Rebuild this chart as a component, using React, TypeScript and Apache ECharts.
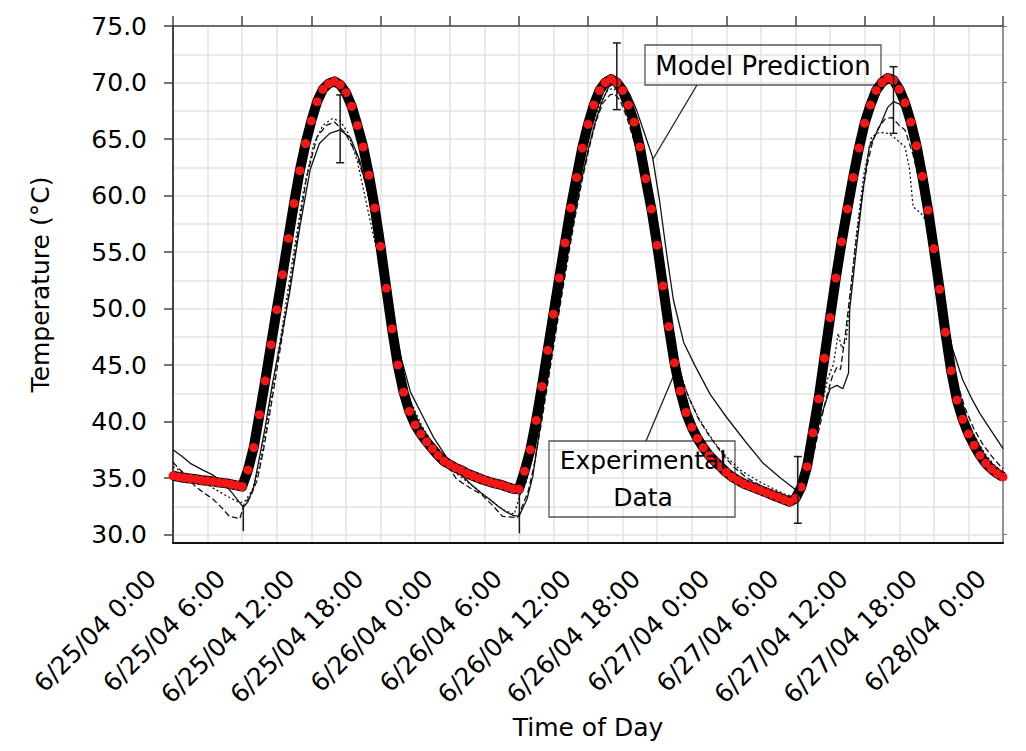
import { useEffect, useRef } from 'react'
import * as echarts from 'echarts'

const FONT = 'DejaVu Sans'

// model prediction, one value every half hour from 6/25/04 0:00
const MODEL_STEP_H = 0.5
const modelTemp = [
  35.2, 35.1, 35.0, 34.95, 34.9, 34.8, 34.75, 34.7, 34.6, 34.55, 34.45, 34.35,
  34.25, 35.7, 37.7, 40.6, 43.6, 46.8, 49.9, 53.0, 56.2, 59.3, 62.2, 64.6,
  66.6, 68.3, 69.4, 69.9, 70.1, 69.8, 69.1, 67.9, 66.2, 64.3, 61.8, 58.9,
  55.5, 51.8, 48.2, 45.0, 42.6, 40.9, 39.7, 38.9, 38.2, 37.6, 37.0, 36.5,
  36.2, 35.9, 35.7, 35.4, 35.2, 35.0, 34.8, 34.65, 34.5, 34.4, 34.2, 34.05,
  34.0, 35.6, 37.5, 40.1, 43.1, 46.3, 49.5, 52.7, 55.8, 58.9, 61.6, 64.2,
  66.3, 68.0, 69.3, 70.0, 70.3, 70.0, 69.3, 68.0, 66.5, 64.3, 61.5, 58.8,
  55.6, 52.0, 48.4, 45.2, 42.7, 40.8, 39.5, 38.5, 37.7, 37.0, 36.5, 36.0,
  35.5, 35.1, 34.8, 34.5, 34.3, 34.1, 33.9, 33.7, 33.5, 33.3, 33.1, 32.9,
  33.2, 34.2, 36.0, 39.0, 42.0, 45.6, 49.2, 52.7, 55.9, 58.8, 61.6, 64.2,
  66.4, 68.0, 69.3, 70.0, 70.4, 70.2, 69.4, 68.2, 66.5, 64.4, 61.7, 58.7,
  55.3, 51.7, 47.9, 44.5, 41.9, 40.2, 38.9, 37.9, 37.0, 36.3, 35.8, 35.4,
  35.1,
]

// experimental traces: [hours since 6/25/04 0:00, temperature]
const expSolid = [
  [0, 37.5], [0.8, 36.9], [1.5, 36.3], [2.6, 35.7], [3.4, 35.3], [4.1, 34.8], [4.7, 34.2],
  [5.2, 33.6], [5.8, 32.8], [6.1, 32.4], [6.5, 32.9], [7.0, 34.2], [7.4, 36.3], [8.0, 39.5],
  [8.6, 43.2], [9.3, 46.9], [10.1, 51.3], [11.0, 57.2], [11.9, 62.3], [12.7, 64.6], [13.6, 65.5],
  [14.5, 65.8], [15.4, 65.1], [16.2, 63.1], [16.9, 60.2], [17.7, 56.7], [18.5, 52.5], [19.2, 48.6],
  [19.8, 45.6], [20.6, 42.6], [21.7, 40.4], [22.6, 38.6], [23.7, 36.9], [24.7, 35.6], [25.8, 34.5],
  [26.7, 33.7], [27.5, 33.1], [28.2, 32.5], [28.9, 32.0], [29.5, 31.7], [30.0, 31.6], [30.7, 33.1],
  [31.2, 35.1], [31.8, 39.2], [32.4, 43.2], [33.0, 47.0], [33.6, 50.8], [34.2, 54.5], [34.8, 58.0],
  [35.4, 61.2], [36.0, 64.0], [36.6, 66.4], [37.2, 68.3], [37.8, 69.6], [38.4, 70.1], [39.0, 69.9],
  [39.6, 69.0], [40.2, 67.6], [40.8, 65.8], [41.6, 63.4], [42.2, 59.6], [42.8, 55.0], [43.4, 50.8],
  [44.3, 47.0], [45.3, 44.9], [46.6, 42.4], [48.0, 40.4], [49.6, 38.3], [51.2, 36.3], [52.7, 35.0],
  [54.1, 33.9], [54.8, 34.8], [55.5, 37.5], [56.1, 40.1], [57.0, 42.9], [57.6, 43.2], [58.1, 42.9],
  [58.6, 44.3], [58.7, 49.9], [59.3, 55.5], [59.9, 60.8], [60.4, 64.3], [61.3, 66.1], [62.0, 67.8],
  [62.5, 68.3], [63.0, 68.1], [63.5, 67.6], [64.5, 65.0], [65.5, 60.5], [66.3, 55.0], [67.0, 49.5],
  [67.6, 46.5], [68.5, 43.7], [69.3, 42.0], [70.0, 40.7], [71.1, 39.0], [72.0, 37.6],
]

const expDashed = [
  [0, 36.4], [1.0, 35.3], [2.0, 34.2], [2.8, 33.6], [3.5, 33.1], [4.2, 32.4], [4.9, 31.6],
  [5.8, 31.4], [6.2, 32.8], [6.7, 33.3], [7.3, 34.8], [7.8, 37.2], [8.3, 40.1], [9.0, 44.5],
  [9.7, 49.0], [10.7, 55.8], [11.6, 61.7], [12.5, 65.2], [13.3, 66.2], [14.0, 66.5], [14.9, 65.6],
  [15.9, 63.7], [16.8, 60.8], [17.4, 57.5], [18.0, 54.5], [18.6, 51.2], [19.2, 47.6], [19.8, 44.6],
  [20.5, 41.8], [21.5, 39.5], [22.5, 37.8], [23.5, 36.6], [24.6, 34.9], [25.8, 34.1], [26.7, 33.6],
  [27.7, 32.6], [28.6, 31.6], [29.9, 31.5], [30.3, 32.5], [30.8, 33.8], [31.3, 36.0], [31.9, 39.5],
  [32.5, 43.3], [33.1, 47.2], [33.7, 51.0], [34.3, 54.7], [34.9, 58.2], [35.5, 61.4], [36.1, 64.2],
  [36.7, 66.6], [37.3, 68.2], [37.9, 68.9], [38.3, 69.0], [38.8, 68.4], [39.4, 66.8], [40.0, 64.8],
  [40.6, 62.5], [41.2, 59.6], [41.8, 56.3], [42.4, 52.6], [43.0, 49.0], [43.6, 46.0], [44.2, 43.6],
  [44.8, 42.0], [45.6, 40.2], [46.6, 38.6], [47.6, 37.2], [48.6, 36.0], [49.8, 35.0], [51.2, 34.2],
  [52.6, 33.6], [53.8, 33.0], [54.2, 33.0], [54.8, 34.3], [55.5, 36.8], [56.1, 39.6], [56.7, 42.2],
  [57.2, 44.0], [57.6, 44.8], [57.9, 44.6], [58.3, 47.5], [58.7, 51.0], [59.2, 55.5], [59.7, 59.5],
  [60.2, 62.6], [60.7, 64.8], [61.2, 66.0], [61.8, 66.8], [62.4, 66.9], [63.0, 66.2], [63.5, 65.8],
  [64.2, 63.6], [64.9, 60.6], [65.5, 57.8], [66.1, 54.3], [66.7, 50.5], [67.3, 46.8], [68.0, 43.5],
  [68.7, 41.2], [69.5, 39.3], [70.3, 37.9], [71.2, 36.7], [72.0, 35.8],
]

const expDotted = [
  [0, 36.0], [1.5, 35.2], [3.0, 34.4], [4.5, 33.5], [5.8, 32.8], [6.3, 33.0], [6.9, 34.0],
  [7.5, 36.0], [8.1, 39.5], [8.8, 44.0], [9.5, 48.5], [10.4, 54.5], [11.3, 60.3], [12.2, 64.5],
  [13.0, 66.2], [13.8, 66.8], [14.5, 66.6], [15.2, 65.5], [16.0, 63.0], [16.7, 59.7], [17.3, 56.8],
  [18.0, 53.8], [18.6, 50.5], [19.2, 47.2], [19.9, 44.2], [20.6, 41.8], [21.6, 39.6], [22.6, 37.9],
  [23.6, 36.5], [24.6, 35.4], [25.6, 34.6], [26.6, 33.8], [27.6, 33.0], [28.6, 32.2], [29.6, 31.8],
  [30.1, 33.5], [30.6, 34.5], [31.1, 36.5], [31.7, 39.8], [32.3, 43.6], [32.9, 47.5], [33.5, 51.2],
  [34.1, 54.8], [34.7, 58.3], [35.3, 61.5], [35.9, 64.3], [36.5, 66.6], [37.1, 68.3], [37.7, 69.3],
  [38.2, 69.5], [38.8, 68.9], [39.4, 67.5], [40.0, 65.6], [40.6, 63.2], [41.0, 61.0], [41.5, 58.5],
  [42.1, 55.0], [42.7, 51.2], [43.3, 47.6], [44.0, 44.4], [44.7, 42.2], [45.6, 40.3], [46.6, 38.7],
  [47.6, 37.3], [49.2, 35.7], [51.0, 34.6], [53.0, 33.6], [54.0, 33.3], [54.8, 35.0], [55.5, 37.8],
  [56.2, 41.0], [56.8, 43.8], [57.3, 45.1], [57.7, 47.8], [58.0, 46.5], [58.4, 47.2], [58.8, 51.5],
  [59.2, 55.8], [59.9, 61.7], [60.6, 65.2], [61.3, 65.6], [62.0, 65.5], [62.5, 65.2], [63.5, 64.3],
  [63.9, 62.3], [64.2, 59.0], [64.9, 58.4], [65.7, 57.2], [66.2, 53.7], [66.8, 49.5], [67.4, 45.5],
  [68.0, 42.5], [68.8, 40.3], [69.6, 38.6], [70.4, 37.2], [71.2, 36.2], [72.0, 35.4],
]

// [hour, low, high]
const errorBars = [
  [14.5, 62.9, 68.9],
  [38.5, 67.6, 73.5],
  [54.2, 31.0, 36.9],
  [62.5, 65.5, 71.4],
]
// uncapped vertical drops in the measured trace
const spikes = [
  [6.1, 30.3, 32.6],
  [30.05, 30.1, 33.9],
]

const xTickHours = [0, 6, 12, 18, 24, 30, 36, 42, 48, 54, 60, 66, 72]
const xTickLabels = [
  '6/25/04 0:00', '6/25/04 6:00', '6/25/04 12:00', '6/25/04 18:00',
  '6/26/04 0:00', '6/26/04 6:00', '6/26/04 12:00', '6/26/04 18:00',
  '6/27/04 0:00', '6/27/04 6:00', '6/27/04 12:00', '6/27/04 18:00',
  '6/28/04 0:00',
]
const yTicks = [30, 35, 40, 45, 50, 55, 60, 65, 70, 75]

const Y_MIN = 29.25
const Y_MAX = 75

function rangeItem(capHalf: number) {
  return (_params: any, api: any) => {
    const t = api.value(0)
    const top = api.coord([t, api.value(2)])
    const bot = api.coord([t, api.value(1)])
    const style = { stroke: '#1a1a1a', lineWidth: 1.5 }
    const children: any[] = [
      { type: 'line', shape: { x1: top[0], y1: top[1], x2: bot[0], y2: bot[1] }, style },
    ]
    if (capHalf > 0) {
      children.push(
        { type: 'line', shape: { x1: top[0] - capHalf, y1: top[1], x2: top[0] + capHalf, y2: top[1] }, style },
        { type: 'line', shape: { x1: bot[0] - capHalf, y1: bot[1], x2: bot[0] + capHalf, y2: bot[1] }, style },
      )
    }
    return { type: 'group', children }
  }
}

export default function App() {
  const ref = useRef<HTMLDivElement>(null)

  useEffect(() => {
    if (!ref.current) return
    const chart = echarts.init(ref.current, undefined, { renderer: 'svg' })

    const thin = (type: any) => ({
      type: 'line',
      symbol: 'none',
      z: 2,
      lineStyle: { color: '#111', width: 1.3, type },
      silent: true,
    })

    chart.setOption({
      animation: false,
      backgroundColor: '#fff',
      grid: { left: 173, right: 23, top: 26, bottom: 208, containLabel: false },
      xAxis: [
        {
          type: 'value',
          min: 0,
          max: 72,
          interval: 3,
          position: 'bottom',
          axisLine: { onZero: false, lineStyle: { color: '#111', width: 2 } },
          axisTick: { show: false },
          splitLine: { show: true, lineStyle: { color: '#e3e3e3', width: 1.5 } },
          axisLabel: {
            customValues: xTickHours,
            formatter: (v: number) => {
              const i = xTickHours.indexOf(v)
              return i >= 0 ? xTickLabels[i] : ''
            },
            rotate: 45,
            margin: 10,
            padding: [0, 30, 0, 0],
            fontSize: 25,
            fontFamily: FONT,
            color: '#000',
            showMinLabel: true,
            showMaxLabel: true,
          },
          name: 'Time of Day',
          nameLocation: 'middle',
          nameGap: 171,
          nameTextStyle: { fontSize: 25, fontFamily: FONT, color: '#000' },
        },
        {
          type: 'value',
          min: 0,
          max: 72,
          interval: 6,
          position: 'top',
          axisLine: { onZero: false, lineStyle: { color: '#444', width: 1.5 } },
          axisTick: { show: true, length: 10, lineStyle: { color: '#444', width: 1.5 } },
          axisLabel: { show: false },
          splitLine: { show: false },
        },
      ],
      yAxis: [
        {
          type: 'value',
          min: Y_MIN,
          max: Y_MAX,
          position: 'left',
          axisLine: { show: true, onZero: false, lineStyle: { color: '#444', width: 2 } },
          axisTick: { show: true, length: 9, customValues: yTicks, lineStyle: { color: '#444', width: 1.5 } },
          axisLabel: {
            customValues: yTicks,
            formatter: (v: number) => v.toFixed(1),
            margin: 26,
            fontSize: 25,
            fontFamily: FONT,
            color: '#000',
          },
          splitLine: { show: false },
          name: 'Temperature (°C)',
          nameLocation: 'middle',
          nameGap: 120,
          nameTextStyle: { fontSize: 25, fontFamily: FONT, color: '#000' },
        },
        {
          // helper axis: horizontal grid every 2.5 degrees, counted down from 75
          type: 'value',
          inverse: true,
          min: 0,
          max: (Y_MAX - Y_MIN) / 2.5,
          interval: 1,
          position: 'left',
          axisLine: { show: false, onZero: false },
          axisTick: { show: false },
          axisLabel: { show: false },
          splitLine: { show: true, lineStyle: { color: '#e3e3e3', width: 1.5 } },
        },
        {
          type: 'value',
          min: Y_MIN,
          max: Y_MAX,
          position: 'right',
          axisLine: { show: true, onZero: false, lineStyle: { color: '#777', width: 1.5 } },
          axisTick: { show: true, length: 4, customValues: yTicks, lineStyle: { color: '#777', width: 1 } },
          axisLabel: { show: false },
          splitLine: { show: false },
        },
      ],
      series: [
        { ...thin('solid'), name: 'Experimental A', data: expSolid },
        { ...thin([6, 3]), name: 'Experimental B', data: expDashed },
        { ...thin([2, 2.5]), name: 'Experimental C', data: expDotted },
        {
          name: 'Model Prediction',
          type: 'line',
          data: modelTemp.map((v, i) => [i * MODEL_STEP_H, v]),
          z: 3,
          symbol: 'circle',
          symbolSize: 9,
          showAllSymbol: true,
          itemStyle: { color: '#f21616' },
          lineStyle: { color: '#000', width: 10, join: 'round' },
          silent: true,
        },
        {
          name: 'Error',
          type: 'custom',
          z: 4,
          data: errorBars,
          encode: { x: 0, y: [1, 2] },
          renderItem: rangeItem(4),
          silent: true,
        },
        {
          name: 'Drops',
          type: 'custom',
          z: 2,
          data: spikes,
          encode: { x: 0, y: [1, 2] },
          renderItem: rangeItem(0),
          silent: true,
        },
      ],
      graphic: [
        {
          type: 'rect',
          z: 1,
          shape: { x: 645, y: 45, width: 236, height: 40 },
          style: { fill: 'none', stroke: '#555', lineWidth: 1.3 },
        },
        {
          type: 'text',
          z: 10,
          x: 763,
          y: 66,
          style: {
            text: 'Model Prediction',
            font: `26px "${FONT}"`,
            fill: '#000',
            align: 'center',
            verticalAlign: 'middle',
            textAlign: 'center',
            textVerticalAlign: 'middle',
          },
        },
        {
          type: 'line',
          z: 10,
          shape: { x1: 697, y1: 85, x2: 653, y2: 159 },
          style: { stroke: '#222', lineWidth: 1.3 },
        },
        {
          type: 'rect',
          z: 1,
          shape: { x: 549, y: 441, width: 186, height: 76 },
          style: { fill: 'none', stroke: '#555', lineWidth: 1.3 },
        },
        {
          type: 'text',
          z: 10,
          x: 643,
          y: 479,
          style: {
            text: 'Experimental\nData',
            font: `25px "${FONT}"`,
            lineHeight: 37,
            fill: '#000',
            align: 'center',
            verticalAlign: 'middle',
            textAlign: 'center',
            textVerticalAlign: 'middle',
          },
        },
        {
          type: 'line',
          z: 10,
          shape: { x1: 646, y1: 441, x2: 673, y2: 377 },
          style: { stroke: '#222', lineWidth: 1.3 },
        },
      ],
    })

    return () => chart.dispose()
  }, [])

  return (
    <div style={{ position: 'absolute', left: 0, top: 0, width: 1026, height: 751, background: '#fff' }}>
      <div ref={ref} style={{ width: 1026, height: 751 }} />
    </div>
  )
}
